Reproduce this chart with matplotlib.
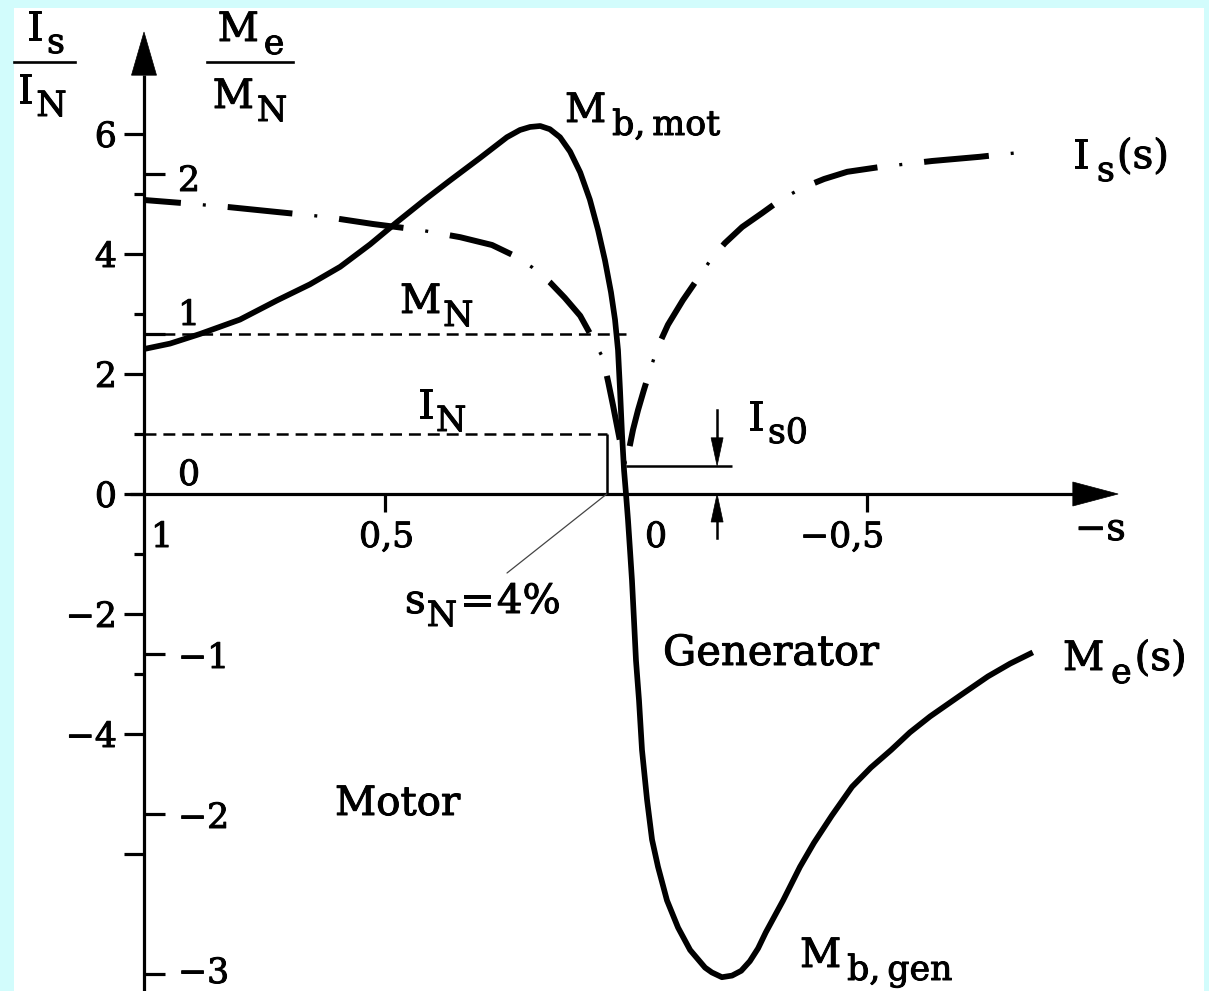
import matplotlib
matplotlib.use("Agg")
import matplotlib.pyplot as plt
import matplotlib.patheffects as pe
from matplotlib.lines import Line2D
from matplotlib.patches import Polygon, Rectangle
from matplotlib.transforms import Affine2D

plt.rcParams["font.family"] = ["DejaVu Serif"]
plt.rcParams["lines.scale_dashes"] = False

# Stator current I_s/I_N versus slip s (motor branch s > 0, generator branch s < 0)
slip_current = [1.0, 0.921, 0.822, 0.724, 0.624, 0.525, 0.427, 0.344, 0.278, 0.234,
                0.195, 0.158, 0.127, 0.095, 0.071, 0.048, 0.037, 0.027, 0.019, 0.010, 0.0,
                -0.006, -0.0145, -0.025, -0.037, -0.050, -0.066, -0.087, -0.118, -0.154,
                -0.178, -0.205, -0.241, -0.282, -0.320, -0.365, -0.411, -0.459, -0.527,
                -0.635, -0.734, -0.849]
stator_current = [4.90, 4.85, 4.78, 4.70, 4.62, 4.50, 4.40, 4.28, 4.15, 3.98,
                  3.78, 3.53, 3.27, 2.97, 2.62, 2.27, 1.87, 1.48, 1.15, 0.78, 0.47,
                  0.73, 1.07, 1.40, 1.73, 2.07, 2.45, 2.82, 3.23, 3.65,
                  3.93, 4.18, 4.45, 4.68, 4.90, 5.10, 5.25, 5.37, 5.45,
                  5.55, 5.62, 5.72]

# Electromagnetic torque M_e/M_N versus slip s
slip_torque = [1.0, 0.946, 0.884, 0.801, 0.724, 0.656, 0.593, 0.531, 0.475, 0.417,
               0.365, 0.303, 0.247, 0.220, 0.199, 0.178, 0.158, 0.137, 0.116, 0.095,
               0.075, 0.058, 0.0436, 0.0311, 0.0228, 0.0166, 0.0124, 0.0083, 0.0041, 0.0,
               -0.0041, -0.0083, -0.0124, -0.0166, -0.0207, -0.027, -0.0332, -0.0436,
               -0.054, -0.0664, -0.085, -0.108, -0.133, -0.164, -0.178, -0.199, -0.220,
               -0.239, -0.257, -0.274, -0.290, -0.326, -0.361, -0.390, -0.427, -0.469,
               -0.508, -0.550, -0.589, -0.631, -0.693, -0.751, -0.797, -0.844]
torque = [0.906, 0.94, 1.0, 1.09, 1.21, 1.31, 1.42, 1.56, 1.70, 1.84,
          1.96, 2.10, 2.23, 2.275, 2.294, 2.30, 2.28, 2.23, 2.14, 2.01,
          1.84, 1.65, 1.46, 1.26, 1.09, 0.90, 0.65, 0.375, 0.15, 0.0,
          -0.16, -0.35, -0.54, -0.79, -1.04, -1.29, -1.60, -1.91,
          -2.16, -2.33, -2.54, -2.71, -2.85, -2.96, -2.99, -3.02, -3.01,
          -2.98, -2.92, -2.84, -2.74, -2.54, -2.33, -2.18, -2.01, -1.83,
          -1.71, -1.60, -1.49, -1.39, -1.26, -1.14, -1.06, -0.99]

current_major_ticks = [6, 4, 2, 0, -2, -4, -6]
current_major_labels = ["6", "4", "2", "0", "\u22122", "\u22124", ""]
current_minor_ticks = [5, 3, 1, -1, -3]
torque_ticks = [2, 1, 0, -1, -2, -3]
torque_tick_labels = ["2", "1", "0", "\u22121", "\u22122", "\u22123"]
torque_label_shift = [17, -9, -9, 14, 14, 9]           # baseline offset below the tick, px
slip_ticks = [0.5, -0.5]
slip_label_values = [1.0, 0.5, 0.0, -0.5]
slip_tick_labels = ["1", "0,5", "0", "\u22120,5"]
slip_label_shift = [7, -26, 19, -67]                   # left edge offset from the tick, px

rated_current = 1.0       # I_N
rated_torque = 1.0        # M_N
rated_slip = 0.04         # s_N = 4 %
torque_to_current = 8 / 3  # one torque unit spans 8/3 current units on the shared axis
no_load_current = stator_current[slip_current.index(0.0)]   # I_s0

# ---- canvas and coordinate system ----
W, H = 1209, 991
X0, KX = 626, 482      # column of s = 0, pixels per unit slip
Y0, KY = 494, 60       # row of zero, pixels per unit current
PS, PI = 1 / KX, 1 / KY

fig = plt.figure(figsize=(W / 100, H / 100), dpi=100)
fig.patch.set_facecolor("#d2fcfc")
fig.add_artist(Rectangle((14 / W, 0), (1204 - 14) / W, (H - 8) / H,
                         transform=fig.transFigure, facecolor="white",
                         edgecolor="none", zorder=-1))
ax = fig.add_axes([0, 0, 1, 1])
ax.set_xlim(X0 / KX, (X0 - W) / KX)
ax.set_ylim((Y0 - H) / KY, Y0 / KY)
ax.axis("off")

pix = Affine2D().scale(1, -1).translate(0, H)
renderer = fig.canvas.get_renderer()
heavy = [pe.withStroke(linewidth=0.7, foreground="black")]


def xp(s):
    return X0 - KX * s


def yp(i):
    return Y0 - KY * i


K = "black"
AX_LW = 2.3
TS = 25          # tick label size
FS = 29          # annotation size
SS = 25          # subscript size
DROP = 13        # subscript drop, px


def text(x, y, s, size, ha="left"):
    return ax.text(x, y, s, transform=pix, ha=ha, va="baseline", fontsize=size,
                   color=K, path_effects=heavy)


def compound(x, y, parts, ha="left"):
    """Write a label made of (text, size, drop, gap) pieces, e.g. a letter with subscript."""
    pieces = [(text(0, 0, t, size), drop, gap) for t, size, drop, gap in parts]
    widths = [p.get_window_extent(renderer).width for p, _, _ in pieces]
    total = sum(widths) + sum(g for _, _, g in pieces)
    cx = x - total / 2 if ha == "center" else x
    for (p, drop, gap), w in zip(pieces, widths):
        cx += gap
        p.set_position((cx, y + drop))
        cx += w


# vertical axis at s = 1 with arrow head
s_ax = 1.0
tip_i, base_i = 7.7, 6.98
ax.plot([s_ax, s_ax], [(Y0 - H) / KY, base_i], color=K, lw=AX_LW, solid_capstyle="butt")
ax.add_patch(Polygon([(s_ax + 12.5 * PS, base_i), (s_ax - 12.5 * PS, base_i), (s_ax, tip_i)],
                     closed=True, facecolor=K, edgecolor=K, lw=0.5))

# horizontal slip axis with arrow head
s_left, s_base, s_tip = s_ax + 14 * PS, -0.927, -1.021
ax.plot([s_left, s_base], [0, 0], color=K, lw=AX_LW, solid_capstyle="butt")
ax.add_patch(Polygon([(s_base, 12 * PI), (s_base, -12 * PI), (s_tip, 0)],
                     closed=True, facecolor=K, edgecolor=K, lw=0.5))

# current scale (left of the axis)
for t, lab in zip(current_major_ticks, current_major_labels):
    ax.plot([s_ax, s_ax + 20 * PS], [t, t], color=K, lw=AX_LW, solid_capstyle="butt")
    if lab:
        text(117, yp(t) + 13, lab, TS, ha="right")
for t in current_minor_ticks:
    ax.plot([s_ax, s_ax + 10 * PS], [t, t], color=K, lw=AX_LW, solid_capstyle="butt")

# torque scale (right of the axis)
for t, lab, dy in zip(torque_ticks, torque_tick_labels, torque_label_shift):
    ti = t * torque_to_current
    if t != 0:
        ax.plot([s_ax, s_ax - 21 * PS], [ti, ti], color=K, lw=AX_LW, solid_capstyle="butt")
    text(178, yp(ti) + dy, lab, TS)

# slip ticks and labels
for t in slip_ticks:
    ax.plot([t, t], [0, -18 * PI], color=K, lw=AX_LW, solid_capstyle="butt")
for v, lab, dx in zip(slip_label_values, slip_tick_labels, slip_label_shift):
    text(xp(v) + dx, 547, lab, TS)
text(1075, 540, "\u2212s", 27)

# rated torque / rated current reference lines
ax.plot([s_ax, 0.0], [rated_torque * torque_to_current] * 2, color=K, lw=1.8,
        linestyle=(0, (8.6, 5.0)))
ax.plot([s_ax, rated_slip], [rated_current] * 2, color=K, lw=1.8,
        linestyle=(0, (8.6, 5.0)))
ax.plot([rated_slip, rated_slip], [0, rated_current], color=K, lw=1.8, solid_capstyle="butt")
ax.annotate("", xy=(rated_slip, 0), xycoords="data", xytext=(507, 573), textcoords=pix,
            arrowprops=dict(arrowstyle="-", lw=0.9, color="#444444", shrinkA=0, shrinkB=0))

# torque curve
ax.plot(slip_torque, [m * torque_to_current for m in torque], color=K, lw=4.1,
        solid_joinstyle="round", solid_capstyle="butt", zorder=3)

# current curve: long thick dashes with fine dots in the gaps
dash, gap, dot, first = 65, 22, 3, 37
period = dash + gap + dot + gap
pt = 0.72
ax.plot(slip_current, stator_current, color=K, lw=4.3, dash_capstyle="butt",
        dash_joinstyle="round",
        linestyle=((dash - first) * pt, (dash * pt, (period - dash) * pt)), zorder=3)
dot_off = (period - (first + gap)) % period
ax.plot(slip_current, stator_current, color=K, lw=2.4, dash_capstyle="butt",
        linestyle=(dot_off * pt, (dot * pt, (period - dot) * pt)), zorder=3)

# no-load current marker
s_mark_end, s_arrow = -0.22, -0.189
ax.plot([0.0, s_mark_end], [no_load_current] * 2, color=K, lw=1.8, solid_capstyle="butt")
head_l, head_w = 28 * PI, 6 * PS
ax.plot([s_arrow, s_arrow], [1.4, no_load_current + head_l], color=K, lw=1.8)
ax.add_patch(Polygon([(s_arrow - head_w, no_load_current + head_l),
                      (s_arrow + head_w, no_load_current + head_l),
                      (s_arrow, no_load_current)], closed=True, facecolor=K, edgecolor=K, lw=0.5))
ax.plot([s_arrow, s_arrow], [-0.73, -head_l], color=K, lw=1.8)
ax.add_patch(Polygon([(s_arrow - head_w, -head_l), (s_arrow + head_w, -head_l),
                      (s_arrow, 0)], closed=True, facecolor=K, edgecolor=K, lw=0.5))

# axis titles as fractions
compound(46, 40, [("I", FS, 0, 0), ("s", SS, DROP, 4)], ha="center")
fig.add_artist(Line2D([14, 75], [62, 62], transform=pix, color=K, lw=1.9))
compound(42, 103, [("I", FS, 0, 0), ("N", SS, DROP, 3)], ha="center")
compound(251, 41, [("M", FS, 0, 0), ("e", SS, DROP, 5)], ha="center")
fig.add_artist(Line2D([207, 293], [62, 62], transform=pix, color=K, lw=1.9))
compound(250, 108, [("M", FS, 0, 0), ("N", SS, DROP, 3)], ha="center")

# curve and region annotations
compound(565, 122, [("M", FS, 0, 0), ("b,\u2009mot", SS, DROP, 6)])
compound(1073, 168, [("I", FS, 0, 0), ("s", SS, DROP, 8), ("(s)", FS, 0, 2)])
compound(400, 313, [("M", FS, 0, 0), ("N", SS, DROP, 2)])
compound(418, 418, [("I", FS, 0, 0), ("N", SS, DROP, 2)])
compound(748, 430, [("I", FS, 0, 0), ("s0", SS, DROP, 4)])
compound(405, 613, [("s", FS, 0, 0), ("N", SS, DROP, 1), ("=", FS, 0, 3), ("4%", FS, 0, 3)])
text(663, 665, "Generator", FS + 1)
compound(1063, 670, [("M", FS, 0, 0), ("e", SS, DROP, 7), ("(s)", FS, 0, 3)])
text(335, 815, "Motor", FS)
compound(800, 967, [("M", FS, 0, 0), ("b,\u2009gen", SS, DROP, 6)])

fig.savefig("out.png", dpi=100, facecolor=fig.get_facecolor())
